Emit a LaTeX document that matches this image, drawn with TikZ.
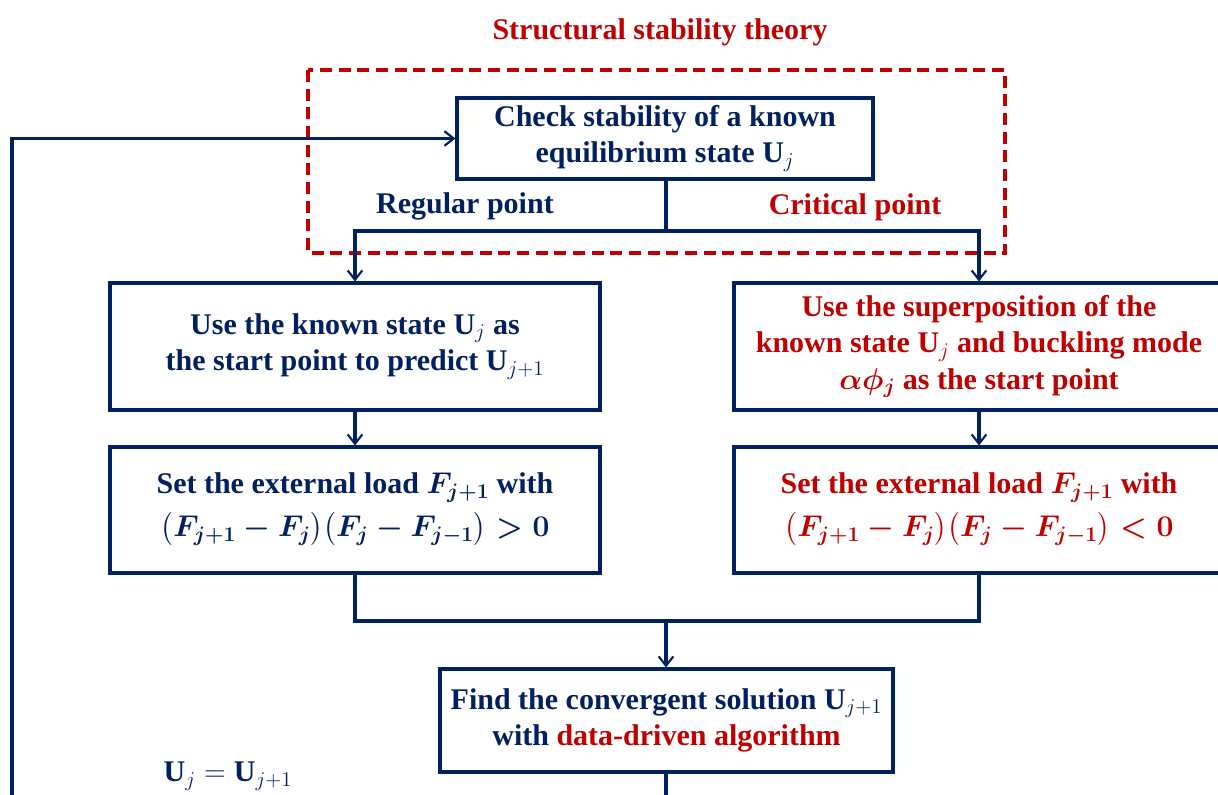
\RequirePackage{fix-cm}
\documentclass[tikz,border=0pt]{standalone}
\usepackage{amsmath}
\usepackage{fontspec}
\setmainfont{Liberation Serif}
\usetikzlibrary{arrows.meta}
\definecolor{navy}{HTML}{002060}
\definecolor{dred}{HTML}{C00000}
\tikzset{
  box/.style={draw=navy, line width=2.3pt, text=navy, align=center, inner sep=0pt,
    font=\bfseries\fontsize{22.5}{26.3}\selectfont},
  redtext/.style={text=dred},
  conn/.style={draw=navy, line width=2.3pt},
  arr/.style={conn, -{Straight Barb[length=7pt,width=11pt,line width=1.6pt]}},
  lbl/.style={font=\bfseries\fontsize{22.5}{26.3}\selectfont, inner sep=0pt},
}
\begin{document}
\begin{tikzpicture}[x=0.75pt,y=-0.75pt]
\useasboundingbox (0,0) rectangle (1218,795);
\clip (0,0) rectangle (1218,795);
% dashed frame
\draw[dred, line width=2.4pt, dash pattern=on 9pt off 5pt] (308,70) rectangle (1005,253);
\node[lbl, text=dred] (title) at (660,32) {Structural stability theory};
% boxes
\node[box, minimum width=416*0.75pt, minimum height=81*0.75pt] (top) at (665,138.5)
  {Check stability of a known\\[1pt] equilibrium state $\mathbf{U}_j$};
\node[box, minimum width=490*0.75pt, minimum height=127*0.75pt] (L1) at (355,346.5)
  {Use the known state $\mathbf{U}_j$ as\\[1pt] the start point to predict $\mathbf{U}_{j+1}$};
\node[box, redtext, minimum width=490*0.75pt, minimum height=127*0.75pt] (R1) at (979,346.5)
  {Use the superposition of the\\[1pt] known state $\mathbf{U}_j$ and buckling mode\\[1pt] {\boldmath$\alpha\phi_j$} as the start point};
\node[box, minimum width=490*0.75pt, minimum height=126*0.75pt] (L2) at (355,510)
  {Set the external load {\boldmath$F_{j+1}$} with\\[6pt] {\boldmath$\bigl(F_{j+1}-F_j\bigr)\bigl(F_j-F_{j-1}\bigr)>0$}};
\node[box, redtext, minimum width=490*0.75pt, minimum height=126*0.75pt] (R2) at (979,510)
  {Set the external load {\boldmath$F_{j+1}$} with\\[6pt] {\boldmath$\bigl(F_{j+1}-F_j\bigr)\bigl(F_j-F_{j-1}\bigr)<0$}};
\node[box, minimum width=453*0.75pt, minimum height=103*0.75pt] (bot) at (666.5,720.5)
  {Find the convergent solution $\mathbf{U}_{j+1}$\\[1pt] with \textcolor{dred}{data-driven algorithm}};
% labels
\node[lbl, text=navy] (reg) at (465,206) {Regular point};
\node[lbl, text=dred] (crit) at (855,207) {Critical point};
\node[lbl, text=navy] (upd) at (228,776) {$\mathbf{U}_j=\mathbf{U}_{j+1}$};
% connectors
\coordinate (split) at (666,231);
\coordinate (merge) at (666,621);
\coordinate (botend) at (666,810);
\coordinate (loopbot) at (12,810);
\draw[conn] (top.south -| split) -- (split);
\draw[arr] (split) -| (L1.north);
\draw[arr] (split) -| (R1.north);
\draw[arr] (L1.south) -- (L2.north);
\draw[arr] (R1.south) -- (R2.north);
\draw[conn] (L2.south) |- (merge);
\draw[conn] (R2.south) |- (merge);
\draw[arr] (merge) -- (bot.north -| merge);
\draw[conn] (bot.south -| botend) -- (botend);
\draw[arr] (loopbot) |- (top.west);
\end{tikzpicture}
\end{document}
